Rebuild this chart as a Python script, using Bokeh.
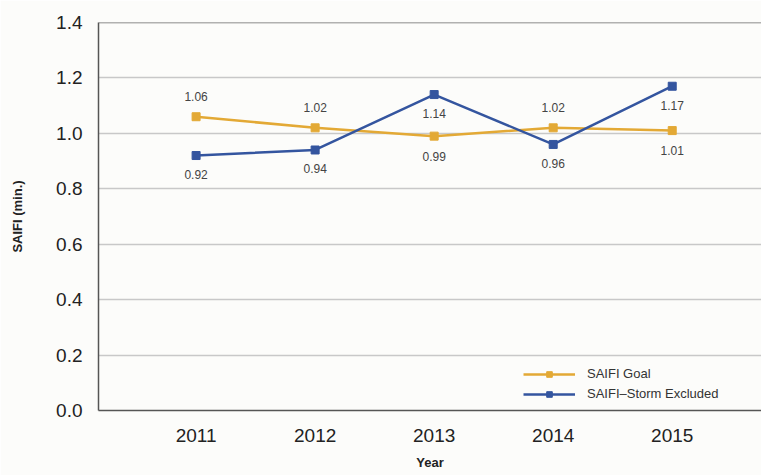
from bokeh.plotting import figure
from bokeh.models import ColumnDataSource, Legend, LegendItem, Span, FixedTicker, CustomJSTickFormatter
from bokeh.core.properties import value
from bokeh.embed import file_html
from bokeh.resources import INLINE

years = [2011, 2012, 2013, 2014, 2015]
goal = [1.06, 1.02, 0.99, 1.02, 1.01]
storm_excl = [0.92, 0.94, 1.14, 0.96, 1.17]
goal_label_pos = ["above", "above", "below", "above", "below"]
storm_label_pos = ["below", "below", "below", "below", "below"]

GOLD = "#e3a935"
BLUE = "#34559f"
BG = "#fcfcfa"
FONT = "Liberation Sans"

p = figure(width=761, height=475, output_backend="svg", toolbar_location=None,
           x_range=(2010.18, 2015.75), y_range=(0, 1.4),
           min_border_left=98, min_border_right=0, min_border_top=22, min_border_bottom=65,
           background_fill_color=BG, border_fill_color=BG)
p.outline_line_color = None

p.xaxis.ticker = FixedTicker(ticks=years)
p.yaxis.ticker = FixedTicker(ticks=[0, 0.2, 0.4, 0.6, 0.8, 1.0, 1.2, 1.4])
p.yaxis.formatter = CustomJSTickFormatter(code="return tick.toFixed(1);")

for ax in (p.xaxis[0], p.yaxis[0]):
    ax.major_tick_line_color = None
    ax.minor_tick_line_color = None
    ax.axis_line_color = "#555555"
    ax.axis_line_width = 1.5
    ax.major_label_text_font = FONT
    ax.major_label_text_font_size = "19px"
    ax.major_label_text_color = "#222222"
    ax.axis_label_text_font = FONT
    ax.axis_label_text_font_size = "13px"
    ax.axis_label_text_font_style = "bold"
    ax.axis_label_text_color = "#222222"

p.xaxis.axis_label = "Year"
p.yaxis.axis_label = "SAIFI (min.)"
p.xaxis.major_label_standoff = 12
p.xaxis.axis_label_standoff = 10
p.yaxis.major_label_standoff = 10
p.yaxis.axis_label_standoff = 28

p.xgrid.grid_line_color = None
p.ygrid.grid_line_color = "#c8c8c8"
p.ygrid.grid_line_width = 1.5
p.add_layout(Span(location=1.4, dimension="width", line_color="#666666", line_width=1.5))

goal_off = [-20 if s == "above" else 20 for s in goal_label_pos]
storm_off = [-20 if s == "above" else 19 for s in storm_label_pos]

src_goal = ColumnDataSource(dict(x=years, y=goal, lab=[f"{v:.2f}" for v in goal], off=goal_off))
src_storm = ColumnDataSource(dict(x=years, y=storm_excl, lab=[f"{v:.2f}" for v in storm_excl], off=storm_off))

gl = p.line("x", "y", source=src_goal, line_color=GOLD, line_width=2.5)
gm = p.scatter("x", "y", source=src_goal, marker="square", size=8, fill_color=GOLD, line_color=GOLD)
bl = p.line("x", "y", source=src_storm, line_color=BLUE, line_width=2.5)
bm = p.scatter("x", "y", source=src_storm, marker="square", size=8, fill_color=BLUE, line_color=BLUE)

for src in (src_goal, src_storm):
    p.text("x", "y", text="lab", source=src, y_offset="off", text_align="center",
           text_baseline="middle", text_font=value(FONT), text_font_size="12px",
           text_color="#444444")

legend = Legend(items=[LegendItem(label="SAIFI Goal", renderers=[gl, gm]),
                       LegendItem(label="SAIFI\u2013Storm Excluded", renderers=[bl, bm])],
                location=(425, 9), background_fill_alpha=0, border_line_color=None,
                label_text_font=FONT, label_text_font_size="13px", label_text_color="#333333",
                glyph_width=52, glyph_height=14, spacing=5, label_standoff=12, padding=4)
p.add_layout(legend)

open("out.html", "w").write(file_html(p, INLINE))
